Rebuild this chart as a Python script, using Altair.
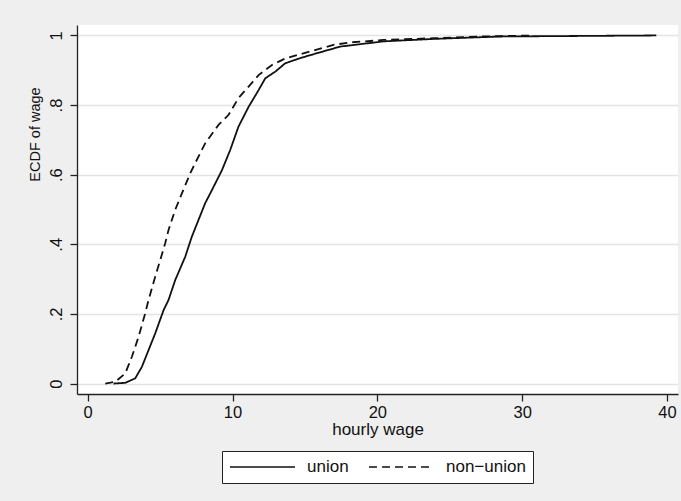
import altair as alt
import pandas as pd

# ---- data ----
union_wage = [1.78, 2.59, 3.28, 3.74, 4.20, 4.66, 5.24, 5.58, 6.04, 6.73, 7.19, 7.65,
              8.11, 8.58, 9.27, 9.84, 10.41, 11.11, 11.80, 12.26, 12.95, 13.64, 14.68,
              15.83, 17.44, 20.43, 23.88, 28.5, 39.26]
union_ecdf = [0.0, 0.002, 0.015, 0.048, 0.096, 0.144, 0.211, 0.24, 0.297, 0.364, 0.422, 0.47,
              0.518, 0.556, 0.613, 0.671, 0.738, 0.795, 0.843, 0.877, 0.896, 0.92, 0.935,
              0.949, 0.968, 0.983, 0.99, 0.997, 1.0]

nonunion_wage = [1.21, 1.90, 2.59, 3.05, 3.51, 3.97, 4.20, 4.66, 5.01, 5.35, 5.58, 6.04,
                 6.51, 7.08, 7.42, 8.11, 9.03, 9.73, 10.41, 11.11, 11.80, 12.72, 13.64,
                 15.37, 16.97, 18.13, 20.43, 23.88, 27.3, 30.8]
nonunion_ecdf = [0.0, 0.005, 0.029, 0.077, 0.134, 0.202, 0.24, 0.307, 0.355, 0.403, 0.441, 0.499,
                 0.547, 0.604, 0.633, 0.69, 0.743, 0.772, 0.82, 0.853, 0.886, 0.915, 0.934,
                 0.954, 0.973, 0.98, 0.987, 0.992, 0.997, 1.0]

group_names = ["union", "non\u2212union"]
x_ticks = [0, 10, 20, 30, 40]
y_ticks = [0, 0.2, 0.4, 0.6, 0.8, 1.0]

df = pd.concat([
    pd.DataFrame({"wage": union_wage, "ecdf": union_ecdf, "group": group_names[0]}),
    pd.DataFrame({"wage": nonunion_wage, "ecdf": nonunion_ecdf, "group": group_names[1]}),
], ignore_index=True)

FONT = "Liberation Sans"
INK = "#111111"

chart = alt.Chart(df).mark_line(strokeWidth=1.8, color=INK, clip=True).encode(
    x=alt.X("wage:Q",
            scale=alt.Scale(domain=[-0.74, 40.76], nice=False, zero=False),
            axis=alt.Axis(values=x_ticks, title="hourly wage", grid=False,
                          labelFlush=False, labelPadding=3,
                          titleFontSize=17, titleY=35.5, titleBaseline="middle")),
    y=alt.Y("ecdf:Q",
            scale=alt.Scale(domain=[-0.03, 1.03], nice=False, zero=False),
            axis=alt.Axis(values=y_ticks, title="ECDF of wage", grid=True,
                          gridColor="#E4E4E4", gridWidth=1.5,
                          labelExpr="replace(format(datum.value, '.1~f'), '0.', '.')",
                          labelAngle=270, labelAlign="center", labelBaseline="bottom",
                          labelPadding=5.5, labelFlush=False,
                          titleFontSize=14.5, titleAngle=270, titleAlign="center",
                          titleBaseline="middle", titleX=-41.5, titleY=109)),
    strokeDash=alt.StrokeDash("group:N",
                              scale=alt.Scale(domain=group_names, range=[[1, 0], [8, 5]]),
                              legend=alt.Legend(title=None, orient="none", legendX=145, legendY=426,
                                                direction="horizontal", symbolType="stroke",
                                                symbolSize=4225, symbolStrokeWidth=1.5,
                                                symbolStrokeColor=INK, clipHeight=18,
                                                labelFont=FONT, labelFontSize=17, labelColor=INK,
                                                labelOffset=11, columnPadding=19, padding=7,
                                                strokeColor="#222222", fillColor="white")),
).properties(
    width=601,
    height=369,
    autosize=alt.AutoSizeParams(type="none"),
    padding={"left": 77, "top": 25, "right": 3, "bottom": 107},
    background="#EFEFEF",
).configure_view(
    fill="white", strokeWidth=0
).configure_axis(
    domainColor="#222222", domainWidth=1.3,
    tickColor="#222222", tickWidth=1.3, tickSize=7,
    labelFont=FONT, labelFontSize=16.5, labelColor=INK,
    titleFont=FONT, titleColor=INK, titleFontWeight="normal",
)

chart.save("out.html", embed_options={"renderer": "svg", "actions": False})
